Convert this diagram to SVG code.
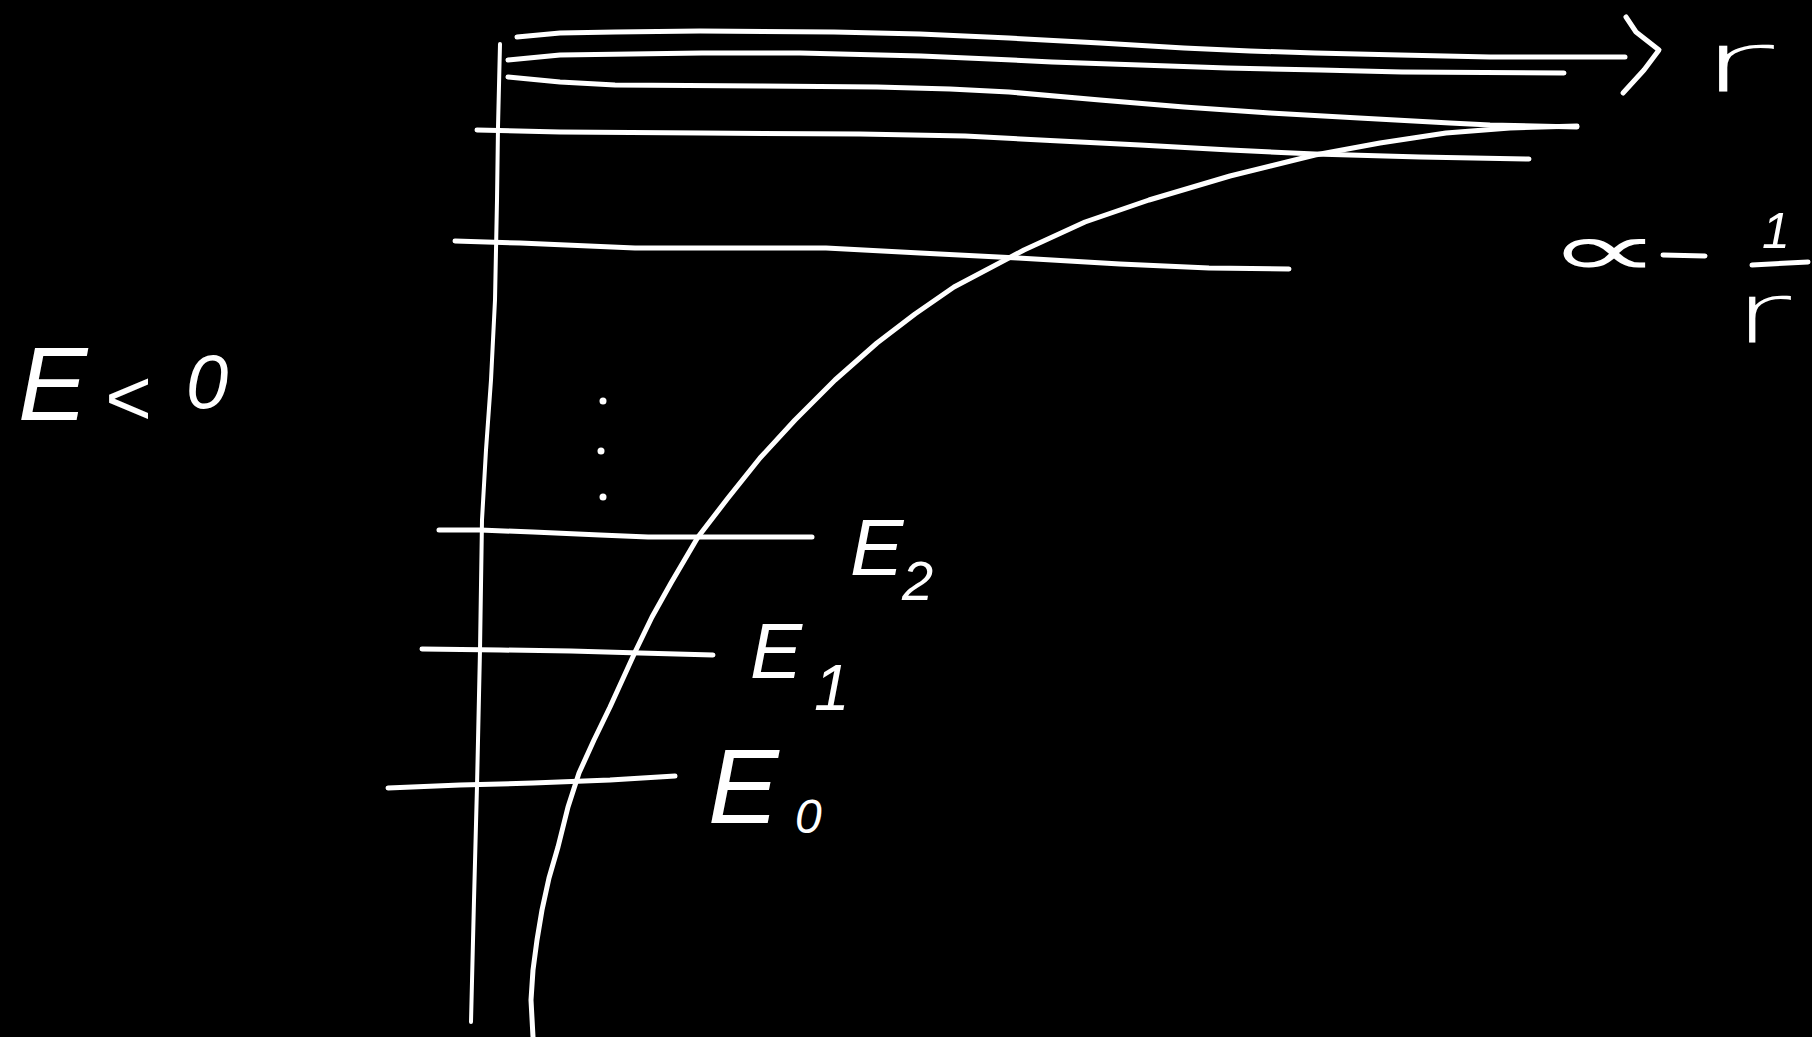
<svg xmlns="http://www.w3.org/2000/svg" width="1812" height="1037" viewBox="0 0 1812 1037">
<style>
.s{fill:none;stroke:#fff;stroke-linecap:round;stroke-linejoin:round;stroke-width:5}
.thin{stroke-width:4}
.t{fill:#fff;font-family:"Liberation Sans","DejaVu Sans",sans-serif;font-style:italic}
.l{fill:#fff;font-family:"DejaVu Sans","Liberation Sans",sans-serif;font-weight:200}
.d{fill:#fff}
</style>
<rect width="1812" height="1037" fill="#000"/>
<g id="connectors">
  <polyline id="axis-vertical" class="s thin" points="500,44 498,127 497,200 495,300 491,380 486,450 482,520 480,650 477,786 474,900 471,1022"/>
  <polyline id="axis-r" class="s" points="517,37 560,33 615,32 700,31 834,32 920,34 1009,38 1100,43 1184,48 1250,51 1315,53 1400,55 1490,57 1625,57"/>
  <polyline id="arrowhead" class="s" points="1626,17 1636,32 1659,50 1644,70 1623,93"/>
  <polyline id="level-a" class="s" points="508,60 560,55 702,53 800,53 921,56 990,59 1052,62 1140,65 1227,68 1320,70 1402,72 1564,73"/>
  <polyline id="level-b" class="s" points="508,77 560,82 615,85 760,86 877,87 950,89 1009,92 1100,100 1184,107 1270,113 1359,118 1450,123 1490,125 1577,127"/>
  <polyline id="level-c" class="s" points="477,130 560,132 702,133 860,134 965,136 1060,141 1140,145 1230,150 1315,154 1420,157 1529,159"/>
  <polyline id="level-d" class="s" points="455,241 520,243 635,248 730,248 826,248 920,253 1018,258 1120,264 1209,268 1289,269"/>
  <polyline id="level-E2" class="s" points="439,530 480,530 533,532 600,535 648,537 740,537 812,537"/>
  <polyline id="level-E1" class="s" points="422,649 500,650 571,651 640,653 713,655"/>
  <polyline id="level-E0" class="s" points="388,788 460,785 533,783 610,780 675,776"/>
  <polyline id="potential" class="s" points="533,1037 531,1000 533,970 537,940 542,910 549,878 558,847 568,807 579,773 594,740 610,707 636,650 652,617 671,583 698,537 728,498 760,458 795,420 835,380 877,343 915,314 954,287 1024,250 1085,222 1149,200 1230,176 1315,155 1380,143 1446,133 1510,128 1577,126"/>
  <line id="fraction-bar" class="s" x1="1752" y1="265" x2="1808" y2="262"/>
</g>
<g id="dots">
  <circle class="d" cx="603" cy="401" r="3.5"/>
  <circle class="d" cx="601" cy="451" r="3.5"/>
  <circle class="d" cx="603" cy="497" r="3.5"/>
</g>
<g id="label-r-axis"><text class="l" x="1698" y="92" font-size="84" textLength="76" lengthAdjust="spacingAndGlyphs">r</text></g>
<g id="label-potential">
  <text class="l" x="1546" y="276" font-size="76" textLength="116" lengthAdjust="spacingAndGlyphs">∝</text>
  <line class="s" x1="1663" y1="255" x2="1705" y2="256"/>
  <text class="t" x="1762" y="248" font-size="50">1</text>
  <text class="l" x="1733" y="343" font-size="84" textLength="58" lengthAdjust="spacingAndGlyphs">r</text>
</g>
<g id="label-E-lt-0">
  <text class="t" x="18" y="420" font-size="104">E</text>
  <text class="t" x="104" y="425" font-size="80">&lt;</text>
  <text class="t" x="186" y="408" font-size="76">0</text>
</g>
<g id="label-E2">
  <text class="t" x="850" y="575" font-size="80">E</text>
  <text class="t" x="902" y="600" font-size="56">2</text>
</g>
<g id="label-E1">
  <text class="t" x="750" y="678" font-size="78">E</text>
  <text class="t" x="814" y="710" font-size="64">1</text>
</g>
<g id="label-E0">
  <text class="t" x="708" y="823" font-size="106">E</text>
  <text class="t" x="795" y="833" font-size="48">0</text>
</g>
</svg>
